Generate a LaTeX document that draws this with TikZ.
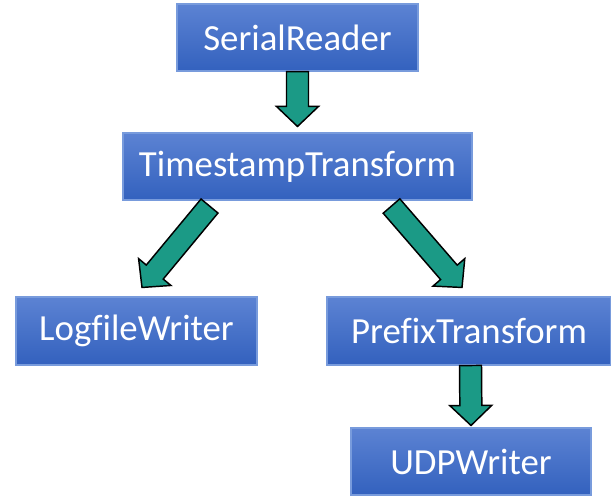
\documentclass[tikz,border=0pt]{standalone}
\usepackage{fontspec}
\setmainfont{Carlito}[Ligatures=NoCommon]
\usetikzlibrary{calc}

\definecolor{boxtop}{RGB}{92,131,211}
\definecolor{boxbottom}{RGB}{51,97,190}
\definecolor{boxline}{RGB}{120,155,220}
\definecolor{flowfill}{RGB}{27,154,134}

\tikzset{
	stage/.style={draw=boxline,line width=0.8pt,top color=boxtop,bottom color=boxbottom,
		text=white,font=\fontsize{27.6}{32}\selectfont,inner sep=0pt,minimum height=50.25pt},
	flow/.style={draw=black,fill=flowfill,line width=1.1pt,line join=miter}
}

% block arrow from a start point to its tip
\newcommand{\blockarrow}[2]{%
	\path (#1) coordinate (ba-s) (#2) coordinate (ba-t);
	\path ($(ba-t)!15pt!(ba-s)$) coordinate (ba-h);
	\draw[flow] ($(ba-s)!8.25pt!90:(ba-t)$) -- ($(ba-h)!8.25pt!90:(ba-t)$)
		-- ($(ba-h)!15.75pt!90:(ba-t)$) -- (ba-t)
		-- ($(ba-h)!15.75pt!-90:(ba-t)$) -- ($(ba-h)!8.25pt!-90:(ba-t)$)
		-- ($(ba-s)!8.25pt!-90:(ba-t)$) -- cycle;
}

\begin{document}
\begin{tikzpicture}[x=0.75pt,y=0.75pt]
	\useasboundingbox (0,0) rectangle (611,496);

	\node[stage,minimum width=180.75pt] (serial) at (297.5,458.5) {SerialReader};
	\node[stage,minimum width=261.75pt] (stamp) at (297.5,329.5) {TimestampTransform};
	\node[stage,minimum width=180.75pt,minimum height=51pt] (logfile) at (136.5,165) {LogfileWriter};
	\node[stage,minimum width=213pt,minimum height=51pt] (prefix) at (469,165) {PrefixTransform};
	\node[stage,minimum width=180pt] (udp) at (471,34.5) {UDPWriter};

	\blockarrow{serial.south}{$(stamp.north)+(0,6)$}
	\blockarrow{$(stamp.south)+(-88,-5.5)$}{$(logfile.north)+(5.5,9)$}
	\blockarrow{$(stamp.south)+(94,-5.5)$}{$(prefix.north)+(-7,9)$}
	\blockarrow{$(prefix.south)+(1.5,0)$}{$(udp.north)+(0,2)$}
\end{tikzpicture}
\end{document}
